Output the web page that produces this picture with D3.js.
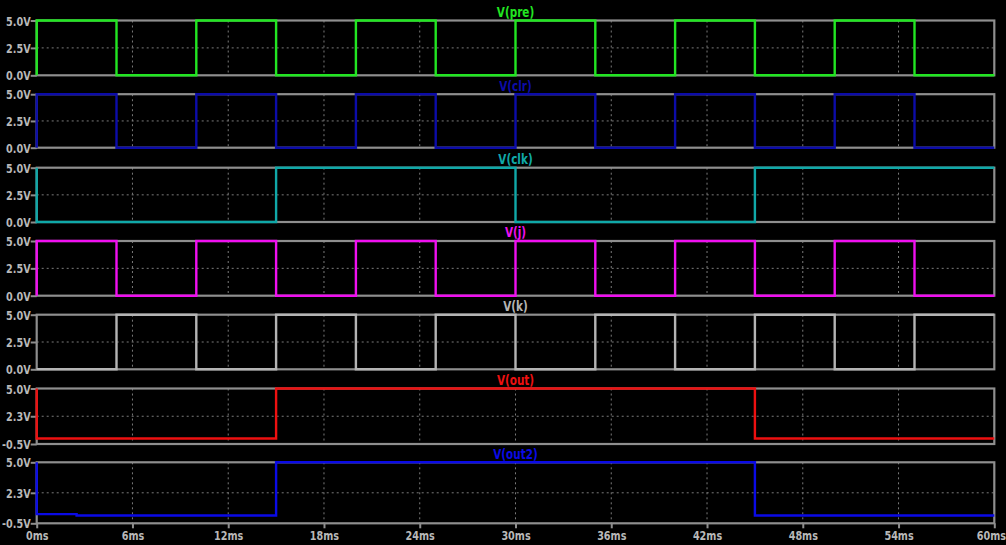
<!DOCTYPE html>
<html>
<head>
<meta charset="utf-8">
<script src="https://cdn.jsdelivr.net/npm/d3@7"></script>
<style>
  html, body { margin: 0; padding: 0; background: #000; }
  svg { display: block; }
  text { font-family: "Liberation Sans Narrow", "DejaVu Sans Condensed", "Arial Narrow", sans-serif; font-weight: bold; }
</style>
</head>
<body>
<svg id="chart" width="1006" height="545"></svg>
<script>
// Transient simulation traces: [time (ms), voltage (V)] breakpoints, held until the next point.
const vPre  = [[0,0],[0,5],[5,0],[10,5],[15,0],[20,5],[25,0],[30,5],[35,0],[40,5],[45,0],[50,5],[55,0],[60,0]];
const vClr  = [[0,0],[0,5],[5,0],[10,5],[15,0],[20,5],[25,0],[30,5],[35,0],[40,5],[45,0],[50,5],[55,0],[60,0]];
const vClk  = [[0,5],[0,0],[15,5],[30,0],[45,5],[60,5]];
const vJ    = [[0,0],[0,5],[5,0],[10,5],[15,0],[20,5],[25,0],[30,5],[35,0],[40,5],[45,0],[50,5],[55,0],[60,0]];
const vK    = [[0,0],[5,5],[10,0],[15,5],[20,0],[25,5],[30,0],[35,5],[40,0],[45,5],[50,0],[55,5],[60,5]];
const vOut  = [[0,5],[0,0.05],[15,5],[45,0.05],[60,0.05]];
const vOut2 = [[0,5],[0,0.33],[2.5,0.2],[15,5],[45,0.2],[60,0.2]];

const traceNames = ["V(pre)", "V(clr)", "V(clk)", "V(j)", "V(k)", "V(out)", "V(out2)"];
const traceColors = ["#22e622", "#0c0ca8", "#10a8a8", "#f010f0", "#b4b4b4", "#ee1010", "#0a0ae6"];

// Vertical axis ticks: logic panels and output panels
const logicTicks = [0, 2.5, 5];
const logicTickLabels = ["0.0V", "2.5V", "5.0V"];
const outTicks = [-0.5, 2.25, 5];
const outTickLabels = ["-0.5V", "2.3V", "5.0V"];

// Time axis
const timeTicks = [0, 6, 12, 18, 24, 30, 36, 42, 48, 54, 60];
const timeTickLabels = ["0ms", "6ms", "12ms", "18ms", "24ms", "30ms", "36ms", "42ms", "48ms", "54ms", "60ms"];

const traces = [vPre, vClr, vClk, vJ, vK, vOut, vOut2];

// Pane geometry (pixels)
const paneTop =    [20.5, 94.2, 167.7, 241, 314.7, 388.5, 462.3];
const paneBottom = [75.3, 147.7, 222, 295.7, 369.3, 444, 523.3];
const left = 36.7, right = 994.3;

const svg = d3.select("#chart");
svg.append("rect").attr("width", 1006).attr("height", 545).attr("fill", "#000");

const x = d3.scaleLinear().domain([0, 60]).range([left, right]);

const frameColor = "#8e8e8e";
const gridColor = "#7a7a7a";
const labelColor = "#b8b8b8";
const squeeze = "scale(0.86,1)";

traces.forEach((data, i) => {
  const isOut = i >= 5;
  const ticks = isOut ? outTicks : logicTicks;
  const labels = isOut ? outTickLabels : logicTickLabels;
  const y = d3.scaleLinear().domain([ticks[0], ticks[2]]).range([paneBottom[i], paneTop[i]]);
  const g = svg.append("g");

  // dashed grid
  g.append("g").selectAll("line.v")
    .data(timeTicks.slice(1, -1))
    .join("line")
    .attr("x1", d => x(d)).attr("x2", d => x(d))
    .attr("y1", paneTop[i]).attr("y2", paneBottom[i])
    .attr("stroke", gridColor).attr("stroke-width", 1).attr("stroke-dasharray", "2,3");
  g.append("line")
    .attr("x1", left).attr("x2", right)
    .attr("y1", y(ticks[1])).attr("y2", y(ticks[1]))
    .attr("stroke", gridColor).attr("stroke-width", 1).attr("stroke-dasharray", "2,3");

  // pane frame
  g.append("rect")
    .attr("x", left).attr("y", paneTop[i])
    .attr("width", right - left).attr("height", paneBottom[i] - paneTop[i])
    .attr("fill", "none").attr("stroke", frameColor).attr("stroke-width", 2.2);

  // left axis
  const yAxis = d3.axisLeft(y).tickValues(ticks).tickFormat((d, k) => labels[k]).tickSize(6).tickPadding(1);
  const ax = g.append("g").attr("transform", `translate(${left},0)`).call(yAxis);
  ax.select(".domain").remove();
  ax.selectAll(".tick line").attr("stroke", frameColor).attr("stroke-width", 2);
  ax.selectAll(".tick text").attr("fill", labelColor).attr("font-size", 12.5)
    .attr("font-family", null).attr("dy", "0.36em").attr("transform", squeeze);

  // trace
  const line = d3.line().x(d => x(d[0])).y(d => y(d[1])).curve(d3.curveStepAfter);
  g.append("path")
    .attr("d", line(data))
    .attr("fill", "none")
    .attr("stroke", traceColors[i])
    .attr("stroke-width", 2.4);

  // title
  g.append("g")
    .attr("transform", `translate(${(left + right) / 2},${paneTop[i] - 8.5})`)
    .append("text")
    .attr("dy", "0.36em")
    .attr("text-anchor", "middle")
    .attr("fill", traceColors[i])
    .attr("font-size", 13.5)
    .attr("transform", squeeze)
    .text(traceNames[i]);
});

// time axis under the last pane
const xAxis = d3.axisBottom(x).tickValues(timeTicks).tickFormat((d, k) => timeTickLabels[k]).tickSize(5).tickPadding(3);
const xa = svg.append("g").attr("transform", `translate(0,${paneBottom[6]})`).call(xAxis);
xa.select(".domain").remove();
xa.selectAll(".tick line").attr("stroke", frameColor).attr("stroke-width", 2);
xa.selectAll(".tick text").attr("fill", labelColor).attr("font-size", 12.5).attr("font-family", null)
  .attr("transform", squeeze);
// keep the last label inside the page
xa.selectAll(".tick text").filter((d, k) => k === timeTicks.length - 1)
  .attr("text-anchor", "end").attr("x", 13);
</script>
</body>
</html>
